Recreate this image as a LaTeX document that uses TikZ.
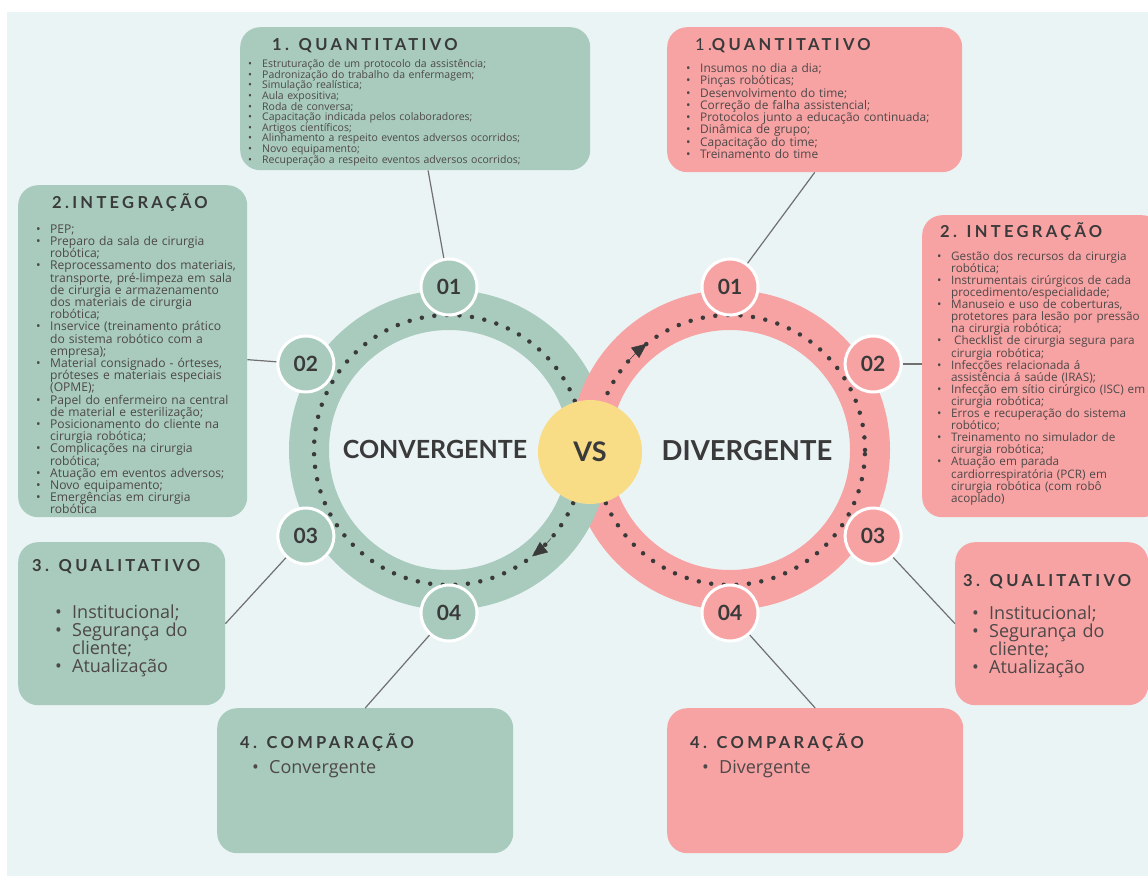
\documentclass[tikz,border=0pt]{standalone}
\usepackage{fontspec}
\setmainfont{Open Sans}
\newfontfamily\headfont{Lato}[LetterSpace=20]
\newfontfamily\titlefont{Lato}
\usetikzlibrary{arrows.meta,positioning,calc}

\definecolor{convgreen}{RGB}{168,203,189}
\definecolor{divpink}{RGB}{247,163,164}
\definecolor{vsyellow}{RGB}{248,220,134}
\definecolor{paper}{RGB}{235,244,245}
\definecolor{ink}{RGB}{58,58,58}
\definecolor{bodyink}{RGB}{78,72,72}
\definecolor{linkgray}{RGB}{112,112,112}

% bullet item with hanging indent (use \newline inside an item)
\newlength\itmw
\setlength\itmw{15pt}
\newcommand\itm{\par\noindent\hangindent=\itmw\hangafter=1\makebox[\itmw][l]{\hspace{1pt}\textbullet}}

\tikzset{
  panel/.style={rounded corners=20pt, anchor=north west, inner sep=0pt},
  greenpanel/.style={panel, fill=convgreen},
  pinkpanel/.style={panel, fill=divpink},
  heading/.style={anchor=base west, inner sep=0pt, text=ink, font=\headfont\bfseries\fontsize{16.5}{16.5}\selectfont},
  itemlist/.style={anchor=north west, inner sep=0pt, align=left, text=bodyink,
    execute at begin node={\lineskiplimit=-20pt}},
  biglist/.style={itemlist, font=\fontsize{18}{18}\selectfont\setlength\itmw{18pt}},
  ring/.style={circle, minimum size=280pt, line width=40pt, inner sep=0pt},
  stepnum/.style={circle, minimum size=56pt, inner sep=0pt, draw=white, line width=3pt, text=ink, font=\titlefont\bfseries\fontsize{21}{21}\selectfont},
  dots/.style={draw=ink, line width=4.5pt, line cap=round, dash pattern=on 0pt off 12.6pt},
  turn/.style={ink, line width=0.5pt, -{Triangle[length=15pt,width=13pt]}},
  link/.style={draw=linkgray, line width=1.2pt},
  bigword/.style={text=ink, font=\titlefont\bfseries\fontsize{25}{25}\selectfont},
}

\begin{document}
\begin{tikzpicture}[x=1pt,y=-1pt]
\useasboundingbox (0,0) rectangle (1148,882);
\fill[white] (0,0) rectangle (1148,882);
\fill[paper] (7,12) rectangle (1148,876);

% panels
\node[greenpanel, minimum width=350pt, minimum height=143pt] (qtL) at (240,27) {};
\node[greenpanel, minimum width=229pt, minimum height=332pt] (intL) at (18,185) {};
\node[greenpanel, minimum width=207pt, minimum height=163pt] (qlL) at (18,542) {};
\node[greenpanel, minimum width=296pt, minimum height=145pt] (cmpL) at (217,708) {};
\node[pinkpanel, minimum width=295pt, minimum height=145pt] (qtR) at (667,27) {};
\node[pinkpanel, minimum width=240pt, minimum height=302pt] (intR) at (922,215) {};
\node[pinkpanel, minimum width=193pt, minimum height=163pt] (qlR) at (955,542) {};
\node[pinkpanel, minimum width=296pt, minimum height=145pt] (cmpR) at (667,708) {};

% rings
\node[ring, draw=convgreen] (ringL) at (449,450) {};
\node[ring, draw=divpink] (ringR) at (730,450) {};
\draw[convgreen, line width=40pt] ($(ringL.center)+(-12:140pt)$) arc[start angle=-12, end angle=-45, radius=140pt];
\draw[dots] (ringL.center) circle[radius=135pt];
\draw[dots] (ringR.center) circle[radius=135pt];
\draw[turn] ($(ringL.center)+(-41:135pt)$) arc[start angle=-41, end angle=-52, radius=135pt];
\draw[turn] ($(ringR.center)+(139:135pt)$) arc[start angle=139, end angle=128, radius=135pt];

% numbered steps
\node[stepnum, fill=convgreen] (nL1) at ($(ringL.center)+(90:163pt)$) {01};
\node[stepnum, fill=convgreen] (nL2) at ($(ringL.center)+(149:167pt)$) {02};
\node[stepnum, fill=convgreen] (nL3) at ($(ringL.center)+(211:167pt)$) {03};
\node[stepnum, fill=convgreen] (nL4) at ($(ringL.center)+(270:163pt)$) {04};
\node[stepnum, fill=divpink] (nR1) at ($(ringR.center)+(90:163pt)$) {01};
\node[stepnum, fill=divpink] (nR2) at ($(ringR.center)+(31:167pt)$) {02};
\node[stepnum, fill=divpink] (nR3) at ($(ringR.center)+(-31:167pt)$) {03};
\node[stepnum, fill=divpink] (nR4) at ($(ringR.center)+(-90:163pt)$) {04};

\node[circle, fill=vsyellow, minimum size=104pt, inner sep=0pt, text=ink, font=\titlefont\bfseries\fontsize{27}{27}\selectfont] (vs) at (590,452) {VS};
\node[bigword] (convL) at (435,449) {CONVERGENTE};
\node[bigword, font=\titlefont\bfseries\fontsize{27.5}{27.5}\selectfont] (divR) at (747,451) {DIVERGENTE};

% connectors
\draw[link] (nL1) -- (qtL);
\draw[link] (nL2) -- (intL);
\draw[link] (nL3) -- (qlL.east);
\draw[link] (nL4) -- (cmpL.north);
\draw[link] (nR1) -- (qtR.south);
\draw[link] (nR2) -- (nR2 -| intR.west);
\draw[link] (nR3) -- (qlR.west);
\draw[link] (nR4) -- (cmpR.north);

% convergente texts
\node[heading] (qtLh) at (272,51) {1. QUANTITATIVO};
\node[itemlist, text width=340pt, font=\fontsize{10.5}{10.6}\selectfont] (qtLl) at (247,57) {%
\itm Estruturação de um protocolo da assistência;
\itm Padronização do trabalho da enfermagem;
\itm Simulação realística;
\itm Aula expositiva;
\itm Roda de conversa;
\itm Capacitação indicada pelos colaboradores;
\itm Artigos científicos;
\itm Alinhamento a respeito eventos adversos ocorridos;
\itm Novo equipamento;
\itm Recuperação a respeito eventos adversos ocorridos;\par};

\node[heading] (intLh) at (52,209) {2.INTEGRAÇÃO};
\node[itemlist, text width=215pt, font=\fontsize{12.1}{12.2}\selectfont] (intLl) at (35,221) {%
\itm PEP;
\itm Preparo da sala de cirurgia\newline robótica;
\itm Reprocessamento dos materiais,\newline transporte, pré-limpeza em sala\newline de cirurgia e armazenamento\newline dos materiais de cirurgia\newline robótica;
\itm Inservice (treinamento prático\newline do sistema robótico com a\newline empresa);
\itm Material consignado - órteses,\newline próteses e materiais especiais\newline (OPME);
\itm Papel do enfermeiro na central\newline de material e esterilização;
\itm Posicionamento do cliente na\newline cirurgia robótica;
\itm Complicações na cirurgia\newline robótica;
\itm Atuação em eventos adversos;
\itm Novo equipamento;
\itm Emergências em cirurgia\newline robótica\par};

\node[heading] (qlLh) at (32,571) {3. QUALITATIVO};
\node[biglist, text width=170pt] (qlLl) at (54,600) {%
\itm Institucional;
\itm Segurança do\newline cliente;
\itm Atualização\par};

\node[heading] (cmpLh) at (240,748) {4. COMPARAÇÃO};
\node[biglist, text width=250pt] (cmpLl) at (251,755) {%
\itm Convergente\par};

% divergente texts
\node[heading] (qtRh) at (695,51) {{\mdseries 1.}QUANTITATIVO};
\node[itemlist, text width=270pt, font=\fontsize{11.9}{12.3}\selectfont] (qtRl) at (685,60) {%
\itm Insumos no dia a dia;
\itm Pinças robóticas;
\itm Desenvolvimento do time;
\itm Correção de falha assistencial;
\itm Protocolos junto a educação continuada;
\itm Dinâmica de grupo;
\itm Capacitação do time;
\itm Treinamento do time\par};

\node[heading] (intRh) at (940,238) {2. INTEGRAÇÃO};
\node[itemlist, text width=250pt, font=\fontsize{11.7}{12.1}\selectfont] (intRl) at (936,248) {%
\itm Gestão dos recursos da cirurgia\newline robótica;
\itm Instrumentais cirúrgicos de cada\newline procedimento/especialidade;
\itm Manuseio e uso de coberturas,\newline protetores para lesão por pressão\newline na cirurgia robótica;
\itm \hspace{3pt}Checklist de cirurgia segura para\newline cirurgia robótica;
\itm Infecções relacionada á\newline assistência á saúde (IRAS);
\itm Infecção em sítio cirúrgico (ISC) em\newline cirurgia robótica;
\itm Erros e recuperação do sistema\newline robótico;
\itm Treinamento no simulador de\newline cirurgia robótica;
\itm Atuação em parada\newline cardiorrespiratória (PCR) em\newline cirurgia robótica (com robô\newline acoplado)\par};

\node[heading] (qlRh) at (963,586) {3. QUALITATIVO};
\node[biglist, text width=175pt] (qlRl) at (971,601) {%
\itm Institucional;
\itm Segurança do\newline cliente;
\itm Atualização\par};

\node[heading] (cmpRh) at (690,748) {4. COMPARAÇÃO};
\node[biglist, text width=250pt] (cmpRl) at (701,755) {%
\itm Divergente\par};
\end{tikzpicture}
\end{document}
